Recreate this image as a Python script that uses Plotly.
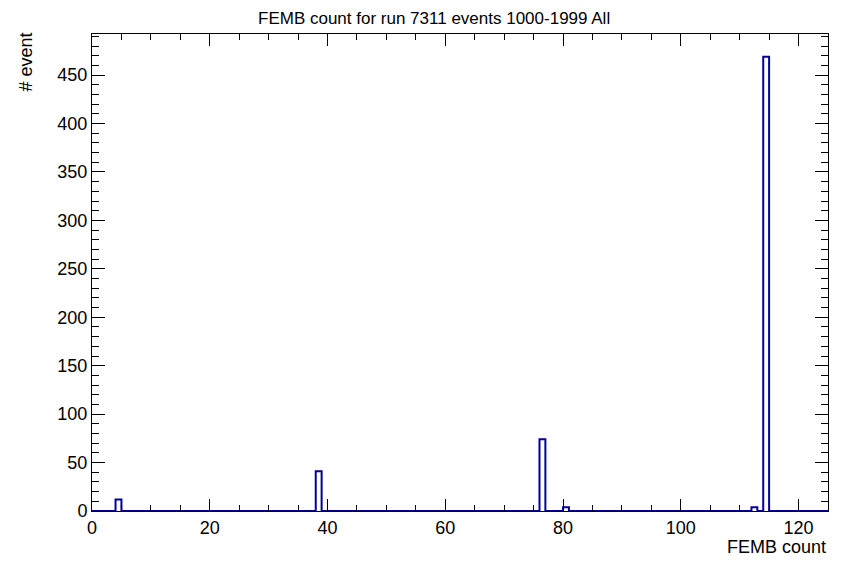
import plotly.graph_objects as go

# Histogram data: FEMB count (bin low edge) and number of events
bin_lows = [4, 38, 76, 80, 112, 114]
counts = [12, 41, 74, 4, 4, 469]
x_min, x_max = 0, 125
title = "FEMB count for run 7311 events 1000-1999 All"
x_title = "FEMB count"
y_title = "# event"

# Build step outline over unit-width bins
nb = x_max - x_min
vals = [0] * nb
for lo, c in zip(bin_lows, counts):
    vals[lo - x_min] = c
edges = list(range(x_min, x_max + 1))
ys = vals + [vals[-1]]

fig = go.Figure()
fig.add_trace(go.Scatter(
    x=edges, y=ys, mode="lines", line_shape="hv",
    line=dict(color="#000099", width=2), hoverinfo="skip", showlegend=False,
))

ymax = max(counts) * 1.05
font = "Liberation Sans, Arial, sans-serif"
fig.update_layout(
    width=836, height=555, autosize=False,
    margin=dict(l=84, r=16, t=26, b=52),
    paper_bgcolor="white", plot_bgcolor="white",
    font=dict(family=font, size=18, color="black"),
    showlegend=False,
    xaxis=dict(
        range=[x_min, x_max], tick0=0, dtick=20, ticks="inside", ticklen=12,
        tickwidth=1, tickcolor="black", showgrid=False, zeroline=False,
        showline=True, linecolor="black", linewidth=1, mirror="ticks",
        minor=dict(dtick=5, ticks="inside", ticklen=6, tickcolor="black", showgrid=False),
        tickfont=dict(size=18),
    ),
    yaxis=dict(
        range=[0, ymax], tick0=0, dtick=50, ticks="inside", ticklen=13,
        tickwidth=1, tickcolor="black", showgrid=False, zeroline=False,
        showline=True, linecolor="black", linewidth=1, mirror="ticks",
        minor=dict(dtick=10, ticks="inside", ticklen=7, tickcolor="black", showgrid=False),
        tickfont=dict(size=18),
    ),
    annotations=[
        dict(text=title, xref="paper", yref="paper", x=(434 - 92) / 736, y=1,
             yshift=26, xanchor="center", yanchor="top", showarrow=False,
             borderpad=0, font=dict(size=17)),
        dict(text=x_title, xref="paper", yref="paper", x=1, y=0, yshift=-36,
             xanchor="right", yanchor="middle", showarrow=False, font=dict(size=18)),
        dict(text=y_title, xref="paper", yref="paper", x=0, y=1, xshift=-67,
             yshift=3, xanchor="center", yanchor="top", textangle=-90,
             showarrow=False, font=dict(size=18)),
    ],
)

fig.write_html("out.html")
